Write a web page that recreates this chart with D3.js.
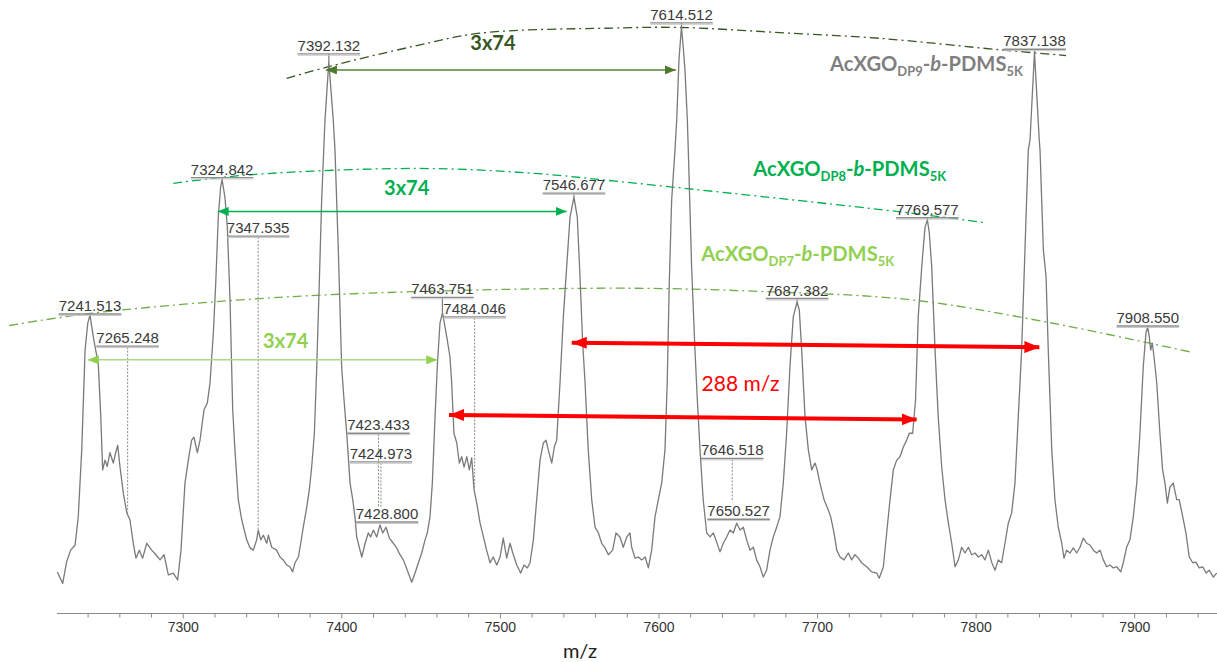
<!DOCTYPE html>
<html><head><meta charset="utf-8">
<script src="https://cdn.jsdelivr.net/npm/d3@7"></script>
<style>body{margin:0;background:#fff} svg{display:block}</style>
</head><body><svg id="c" width="1217" height="662"></svg>
<script>
// ---------------- DATA ----------------
const mz = [7220.9,7224.3,7226.8,7229.3,7232.1,7234.1,7236.3,7238.4,7240.1,7241.5,7243.6,7245.1,7246.7,7248.3,7249.5,7251.0,7252.4,7254.1,7256.2,7257.7,
7259.0,7260.4,7262.5,7264.7,7266.7,7268.8,7270.5,7272.6,7274.7,7277.3,7280.4,7283.1,7285.7,7288.2,7290.9,7294.0,7296.8,7298.9,7301.4,7303.5,
7305.6,7307.1,7309.2,7310.9,7313.4,7315.5,7317.2,7319.3,7320.8,7322.4,7323.9,7324.8,7326.6,7328.1,7329.8,7331.5,7332.9,7335.0,7337.2,7340.3,
7342.4,7344.5,7346.6,7347.6,7349.2,7350.8,7353.0,7354.0,7356.1,7359.2,7361.3,7363.4,7365.6,7367.6,7369.3,7370.8,7372.9,7374.4,7376.0,7378.2,
7379.8,7381.3,7383.0,7384.5,7386.1,7387.6,7389.7,7392.1,7394.9,7396.0,7398.1,7400.2,7401.7,7403.4,7405.5,7407.2,7408.6,7409.7,7411.3,7412.9,
7415.0,7417.0,7418.5,7420.2,7422.3,7424.4,7426.1,7428.2,7430.3,7432.8,7434.9,7437.0,7439.1,7441.6,7444.4,7446.5,7448.6,7450.7,7452.8,7454.2,
7455.9,7457.4,7459.1,7460.5,7462.2,7463.8,7465.4,7466.8,7468.5,7469.6,7471.0,7472.8,7474.4,7475.9,7477.4,7479.1,7480.7,7482.2,7483.7,7485.4,
7487.5,7489.6,7491.6,7493.8,7495.8,7498.0,7500.1,7502.1,7504.3,7506.4,7508.1,7510.6,7513.1,7515.2,7517.3,7519.0,7521.1,7523.2,7525.3,7527.4,
7529.1,7530.5,7532.7,7534.3,7535.8,7537.9,7540.0,7542.1,7544.2,7546.7,7548.8,7550.5,7552.2,7553.7,7555.7,7557.9,7560.0,7562.1,7564.2,7566.3,
7568.4,7571.1,7573.2,7575.7,7577.8,7580.0,7582.0,7583.1,7585.2,7587.3,7589.4,7591.6,7593.6,7595.7,7597.8,7599.9,7602.0,7604.1,7605.5,7606.8,
7608.3,7610.4,7611.5,7612.9,7614.5,7615.6,7616.7,7618.2,7618.8,7620.9,7623.0,7624.5,7626.2,7628.2,7630.4,7632.5,7634.6,7636.7,7638.8,7640.9,
7643.0,7645.1,7647.2,7649.3,7651.4,7653.5,7655.6,7657.7,7659.8,7661.9,7664.0,7666.1,7668.2,7670.3,7672.4,7674.5,7676.6,7678.7,7680.8,7682.9,
7685.0,7687.4,7688.8,7690.3,7692.4,7694.5,7696.6,7698.7,7700.1,7701.8,7704.4,7706.4,7708.6,7710.7,7712.4,7714.5,7717.0,7719.7,7721.8,7723.9,
7726.0,7728.1,7731.3,7734.4,7737.6,7739.2,7741.8,7743.9,7746.0,7748.1,7750.2,7752.3,7754.4,7756.5,7758.2,7760.3,7762.1,7763.8,7766.0,7768.1,
7769.6,7770.8,7772.3,7774.4,7776.4,7778.6,7780.7,7782.8,7784.9,7787.0,7789.1,7791.2,7793.3,7795.4,7797.5,7799.6,7801.7,7803.8,7805.9,7808.0,
7810.1,7812.2,7814.3,7816.4,7818.5,7820.6,7822.7,7824.8,7826.9,7829.0,7831.1,7833.2,7834.3,7837.1,7840.1,7840.6,7842.7,7844.4,7845.8,7848.0,
7850.0,7852.1,7854.3,7855.7,7857.4,7859.5,7861.6,7863.7,7865.8,7867.9,7870.0,7872.1,7874.2,7876.3,7878.4,7880.5,7882.6,7884.7,7886.8,7888.9,
7891.5,7893.1,7895.2,7897.3,7899.4,7901.6,7903.6,7905.7,7907.4,7908.5,7909.5,7910.4,7911.4,7912.5,7914.2,7916.2,7917.9,7919.4,7920.9,7922.5,
7924.6,7926.8,7928.4,7930.6,7932.6,7934.7,7936.9,7938.9,7941.0,7943.2,7945.3,7947.3,7949.9,7952.0];
const intensity = [4.9,2.9,6.7,8.7,9.6,14.5,26.2,43.6,48.3,49.7,45.9,43.6,41.4,32.0,22.7,24.4,23.3,25.7,23.9,25.7,
27.0,23.3,18.7,15.2,14.0,9.9,7.3,8.7,7.3,9.9,8.7,7.9,7.0,7.9,4.4,4.7,3.5,8.7,20.4,24.4,
27.9,28.4,25.7,27.9,33.2,34.4,37.9,46.6,55.3,66.8,72.1,73.3,70.3,65.1,52.4,33.2,26.2,17.5,14.0,10.5,
9.1,8.7,10.5,12.2,10.5,11.3,9.9,11.3,9.2,8.7,7.5,7.0,6.1,5.8,4.9,6.5,7.5,9.9,12.7,16.2,
19.2,23.2,29.1,40.7,55.3,69.8,83.8,93.9,83.8,78.5,61.1,40.7,34.9,29.1,20.4,17.5,14.5,11.0,9.2,7.5,
9.9,11.7,11.0,12.2,11.0,13.1,11.7,12.7,10.8,9.9,9.1,7.9,7.0,5.2,3.1,4.7,6.5,8.2,10.5,11.7,
14.5,20.4,32.0,40.7,48.3,50.1,47.6,45.4,42.4,37.9,29.1,27.4,23.9,25.0,23.2,25.0,22.7,24.8,19.2,16.9,
13.4,11.0,8.7,6.5,7.5,6.1,7.5,10.8,7.3,9.9,8.2,6.1,4.7,6.1,5.6,6.5,10.5,17.5,24.4,27.4,
27.9,26.2,23.9,26.7,27.9,37.9,49.4,58.1,66.8,70.3,66.8,56.4,44.8,37.9,26.2,17.5,12.7,11.7,9.9,9.1,
7.9,8.7,11.7,11.0,9.2,11.0,11.7,9.2,7.3,7.5,7.0,7.5,5.6,8.7,14.5,17.5,20.4,26.2,37.9,55.3,
69.8,78.5,83.8,94.2,100,96.5,92.5,83.8,78.5,58.1,43.6,34.9,26.2,17.5,11.7,11.0,11.7,10.1,8.4,9.9,
11.0,12.2,11.7,13.4,12.2,12.7,10.5,8.7,9.2,7.0,5.8,4.0,5.2,8.7,11.0,12.7,14.5,20.4,29.1,40.7,
49.4,52.0,50.6,43.6,32.0,26.2,22.7,23.9,22.7,20.4,17.5,16.2,14.5,11.7,8.7,7.5,7.0,8.2,7.0,7.9,
7.3,6.5,5.8,4.9,4.7,3.8,5.8,11.7,17.5,22.7,24.4,25.0,26.7,27.9,29.1,29.1,34.9,49.4,58.1,65.1,
66.3,64.0,58.1,43.6,32.0,23.2,17.5,13.4,9.9,5.8,7.0,9.2,8.2,9.2,7.9,8.2,7.5,7.9,7.0,8.7,
6.6,5.2,7.0,6.5,9.9,13.4,15.2,20.4,32.0,43.6,61.1,78.5,80.3,95.6,80.3,78.5,61.1,56.4,43.6,26.2,
17.5,12.7,9.9,7.3,8.7,8.2,9.1,8.2,9.2,10.8,9.9,9.6,8.7,8.2,8.7,7.0,5.8,6.1,5.6,5.8,
4.9,6.5,9.2,10.5,14.5,20.4,29.1,40.7,46.6,47.6,45.9,43.6,44.8,42.4,37.9,29.1,22.7,20.4,16.9,19.7,
20.4,17.5,17.5,14.5,11.7,7.5,6.5,6.6,5.6,5.8,4.7,5.2,4.0,4.7];

const majorTicks = [7300,7400,7500,7600,7700,7800,7900];
const minorTicks = [7240,7260,7280,7320,7340,7360,7380,7420,7440,7460,7480,7520,7540,7560,7580,7620,7640,7660,7680,7720,7740,7760,7780,7820,7840,7860,7880,7920,7940];

// peak annotations
const labelValues = ["7241.513","7265.248","7324.842","7347.535","7392.132","7423.433","7424.973","7428.800","7463.751",
  "7484.046","7546.677","7614.512","7646.518","7650.527","7687.382","7769.577","7837.138","7908.550"];
const labelLevel  = [49.9,44.3,73.7,63.5,95.3,29.1,24.1,13.6,52.8,49.4,71.0,100.7,24.7,14.1,52.6,66.7,96.1,47.8];
const leaderEnd   = [null,15.2,null,12.2,null,16.3,16.3,null,null,19.2,null,null,17.2,null,null,null,null,null];
const isMainPeak  = [1,0,1,0,1,0,0,0,1,0,1,1,0,0,1,1,1,1];

// isotopic-envelope guide curves (m/z, intensity)
const env9Mz = [7365.5,7392.4,7445.4,7487.4,7571.5,7613.5,7676.6,7739.7,7815.4,7857.0];
const env9I  = [91.0,93.1,96.6,98.9,99.8,99.9,99.0,98.0,96.0,95.0];
const env8Mz = [7294.0,7342.4,7447.5,7519.0,7575.7,7750.2,7807.0];
const env8I  = [72.7,74.2,75.3,74.5,73.0,67.8,65.8];
const env7Mz = [7190.6,7241.5,7348.7,7445.2,7582.0,7668.2,7758.6,7842.7,7935.2];
const env7I  = [47.9,50.0,52.6,53.8,54.4,53.8,52.4,48.6,43.3];

// spacing arrows
const arrowFromMz = [7390.3,7322.0,7240.1,7545.3,7467.9];
const arrowToMz   = [7611.0,7542.1,7460.5,7840.2,7762.8];
const arrowFromI  = [92.5,67.8,41.9,44.9,32.3];
const arrowToI    = [92.5,67.8,41.9,44.1,31.5];

const spacingLabels = ["3x74","3x74","3x74"];
const spacingMz = [7495.6,7441.2,7364.9];
const spacingI  = [96.0,70.7,43.9];
const diffLabel = "288 m/z";
const diffMz = 7651.7, diffI = 36.5;

const seriesNames = ["DP9","DP8","DP7"];
const seriesMz = [7708.2,7659.8,7627.0];
const seriesI  = [92.3,74.0,59.2];

// ---------------- STYLES ----------------
const C9 = "#375623", C8 = "#00b050", C7 = "#92d050", C7line = "#70ad47";
const seriesColors = ["#7f7f7f", C8, C7];
const envColors = [C9, C8, C7line];
const arrowColors = ["#548235", C8, "#a9d98a", "#ff0000", "#ff0000"];
const headColors  = ["#4e7a2c", C8, C7, "#ff0000", "#ff0000"];
const spacingColors = [C9, C8, C7];

// ---------------- SCALES ----------------
const svg = d3.select("#c");
const x = d3.scaleLinear().domain([7220.7, 7952.2]).range([57, 1217]);
const y = d3.scaleLinear().domain([0, 100]).range([600, 26.9]);
const axisY = 613.5;

// axis
const axisG = svg.append("g").attr("transform", `translate(0,${axisY})`);
axisG.append("g").call(d3.axisBottom(x).tickValues(minorTicks).tickSize(4).tickFormat(""))
  .call(g => g.select(".domain").remove())
  .call(g => g.selectAll("line").attr("stroke", "#8a8a8a"));
axisG.append("g").call(d3.axisBottom(x).tickValues(majorTicks).tickSize(5).tickPadding(4).tickFormat(d3.format("d")))
  .call(g => g.select(".domain").remove())
  .call(g => g.selectAll("line").attr("stroke", "#8a8a8a"))
  .call(g => g.selectAll("text").attr("font-family", "Liberation Sans, Arial, sans-serif").attr("font-size", 14).attr("fill", "#333"));
axisG.append("line").attr("x1", 57).attr("x2", 1217).attr("y1", 0).attr("y2", 0).attr("stroke", "#8a8a8a").attr("stroke-width", 1.2);
svg.append("text").attr("x", 580).attr("y", 658).attr("text-anchor", "middle")
  .attr("font-family", "Lato, 'Open Sans', sans-serif").attr("font-size", 20).attr("fill", "#222").text("m/z");

// envelope curves
const envLine = d3.line().x(d => x(d[0])).y(d => y(d[1])).curve(d3.curveCatmullRom);
[[env9Mz, env9I], [env8Mz, env8I], [env7Mz, env7I]].forEach((e, i) => {
  svg.append("path").attr("d", envLine(e[0].map((m, k) => [m, e[1][k]])))
    .attr("fill", "none").attr("stroke", envColors[i]).attr("stroke-width", 1.3)
    .attr("stroke-dasharray", "9,4,2,4");
});

// spectrum
const spec = mz.map((m, i) => [m, intensity[i]]);
svg.append("path").attr("d", d3.line().x(d => x(d[0])).y(d => y(d[1]))(spec))
  .attr("fill", "none").attr("stroke", "#7a7a7a").attr("stroke-width", 1.3).attr("stroke-linejoin", "round");

// peak labels
const labG = svg.append("g");
labelValues.forEach((t, i) => {
  const v = +t, cx = x(v), uy = y(labelLevel[i]);
  const txt = labG.append("text").attr("x", cx).attr("y", uy - 3).attr("text-anchor", "middle")
    .attr("font-family", "Liberation Sans, Arial, sans-serif").attr("font-size", 15).attr("fill", "#3a3a3a").text(t);
  const w = txt.node().getComputedTextLength();
  if (isMainPeak[i]) {
    const near = spec.filter(d => Math.abs(d[0] - v) < 2.5);
    const top = d3.max(near, d => d[1]);
    if (top !== undefined && y(top) > uy) {
      labG.append("line").attr("x1", cx).attr("x2", cx).attr("y1", uy).attr("y2", y(top))
        .attr("stroke", "#7a7a7a").attr("stroke-width", 1.2);
    }
  }
  if (leaderEnd[i] !== null) {
    labG.append("line").attr("x1", cx).attr("x2", cx).attr("y1", uy + 1).attr("y2", y(leaderEnd[i]))
      .attr("stroke", "#8a8a8a").attr("stroke-width", 1).attr("stroke-dasharray", "2,1.5");
  }
  labG.append("line").attr("x1", cx - w / 2).attr("x2", cx + w / 2).attr("y1", uy).attr("y2", uy)
    .attr("stroke", "#8c8c8c").attr("stroke-width", 1.4);
  labG.append("line").attr("x1", cx - w / 2).attr("x2", cx + w / 2).attr("y1", uy + 1.4).attr("y2", uy + 1.4)
    .attr("stroke", "#c8c8c8").attr("stroke-width", 1);
});

// arrow markers
const defs = svg.append("defs");
headColors.forEach((c, i) => {
  const big = i >= 3;
  const L = big ? 15 : 11, W = big ? 12 : 9;
  defs.append("marker").attr("id", "ah" + i).attr("markerUnits", "userSpaceOnUse")
    .attr("markerWidth", L).attr("markerHeight", W).attr("refX", L).attr("refY", W / 2)
    .attr("orient", "auto-start-reverse")
    .append("path").attr("d", `M0,0L${L},${W / 2}L0,${W}Z`).attr("fill", c);
});
arrowFromMz.forEach((m, i) => {
  svg.append("line").attr("x1", x(m)).attr("y1", y(arrowFromI[i])).attr("x2", x(arrowToMz[i])).attr("y2", y(arrowToI[i]))
    .attr("stroke", arrowColors[i]).attr("stroke-width", i >= 3 ? 4 : 1.5)
    .attr("marker-start", `url(#ah${i})`).attr("marker-end", `url(#ah${i})`);
});

// spacing labels
spacingLabels.forEach((t, i) => {
  svg.append("text").attr("x", x(spacingMz[i])).attr("y", y(spacingI[i])).attr("text-anchor", "middle")
    .attr("font-family", "Lato, 'Open Sans', sans-serif").attr("font-weight", 700).attr("font-size", 20)
    .attr("fill", spacingColors[i]).text(t);
});
svg.append("text").attr("x", x(diffMz)).attr("y", y(diffI)).attr("text-anchor", "middle")
  .attr("font-family", "Lato, 'Open Sans', sans-serif").attr("font-size", 21)
  .attr("fill", "#ff0000").text(diffLabel);

// series names
seriesNames.forEach((s, i) => {
  const t = svg.append("text").attr("x", x(seriesMz[i])).attr("y", y(seriesI[i]))
    .attr("font-family", "Lato, 'Open Sans', sans-serif").attr("font-weight", 700)
    .attr("font-size", 21).attr("fill", seriesColors[i]);
  t.append("tspan").text("AcXGO");
  t.append("tspan").attr("font-size", 13.5).attr("dy", 5).text(s);
  t.append("tspan").attr("dy", -5).text("-");
  t.append("tspan").attr("font-style", "italic").text("b");
  t.append("tspan").text("-PDMS");
  t.append("tspan").attr("font-size", 13.5).attr("dy", 5).text("5K");
  const w = t.node().getComputedTextLength();
  const k = 193 / w;
  t.attr("font-size", 21 * k);
  t.selectAll("tspan").filter(function () { return this.getAttribute("font-size"); })
    .attr("font-size", 13.5 * k);
});
</script></body></html>
